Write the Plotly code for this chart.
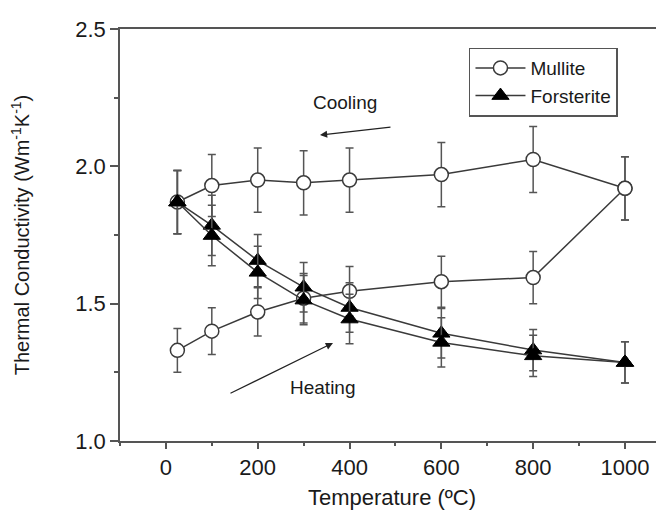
import plotly.graph_objects as go

# ---- data ----
temp_heat = [25, 100, 200, 300, 400, 600, 800, 1000]
mullite_heat = [1.33, 1.40, 1.47, 1.52, 1.545, 1.58, 1.595, 1.92]
mullite_heat_err = [0.08, 0.085, 0.088, 0.09, 0.09, 0.093, 0.095, 0.115]

temp_cool = [1000, 800, 600, 400, 300, 200, 100, 25]
mullite_cool = [1.92, 2.025, 1.97, 1.95, 1.94, 1.95, 1.93, 1.87]
mullite_cool_err = [0.115, 0.12, 0.117, 0.117, 0.117, 0.117, 0.113, 0.115]

temp_f = [25, 100, 200, 300, 400, 600, 800, 1000]
forst_a = [1.87, 1.785, 1.657, 1.56, 1.486, 1.392, 1.331, 1.286]
forst_b = [1.87, 1.748, 1.614, 1.513, 1.444, 1.359, 1.31, 1.286]
forst_err = [0.115, 0.11, 0.095, 0.09, 0.09, 0.09, 0.075, 0.075]

x_ticks = [0, 200, 400, 600, 800, 1000]
y_ticks = [1.0, 1.5, 2.0, 2.5]

FONT = "Liberation Sans, Arial, sans-serif"
TXT = "#1a1a1a"
LINE = "#3a3a3a"
ERR = "#555555"

fig = go.Figure()

def err(vals):
    return dict(type="data", array=vals, visible=True, color=ERR, thickness=1.5, width=4)

circle = dict(symbol="circle", size=14, color="white", line=dict(color=LINE, width=1.5))
tri = dict(symbol="triangle-up", size=15, color="black", line=dict(color="black", width=1))

fig.add_trace(go.Scatter(x=temp_heat, y=mullite_heat, error_y=err(mullite_heat_err),
                         mode="lines+markers", name="Mullite", legendgroup="m",
                         line=dict(color=LINE, width=1.5), marker=circle))
fig.add_trace(go.Scatter(x=temp_cool, y=mullite_cool, error_y=err(mullite_cool_err),
                         mode="lines+markers", name="Mullite", legendgroup="m", showlegend=False,
                         line=dict(color=LINE, width=1.5), marker=circle))
fig.add_trace(go.Scatter(x=temp_f, y=forst_a, error_y=err(forst_err),
                         mode="lines+markers", name="Forsterite", legendgroup="f",
                         line=dict(color=LINE, width=1.5), marker=tri))
fig.add_trace(go.Scatter(x=temp_f, y=forst_b, error_y=err(forst_err),
                         mode="lines+markers", name="Forsterite", legendgroup="f", showlegend=False,
                         line=dict(color=LINE, width=1.5), marker=tri))

axis_common = dict(showline=True, linecolor="#555555", linewidth=1.5, showgrid=False,
                   zeroline=False, ticks="outside", tickcolor="#555555", tickwidth=1.5,
                   automargin=False,
                   tickfont=dict(family=FONT, size=22, color=TXT))

fig.update_xaxes(range=[-100, 1085], tickvals=x_ticks, ticklen=6, mirror=True,
                 minor=dict(dtick=100, tick0=0, ticks="outside", ticklen=3, tickcolor="#555555"),
                 title=dict(text="Temperature (ºC)", font=dict(family=FONT, size=22, color=TXT),
                            standoff=15),
                 **axis_common)
fig.update_yaxes(range=[1.0, 2.5], tickvals=y_ticks, tickformat=".1f", ticklen=8,
                 minor=dict(dtick=0.25, tick0=1.0, ticks="outside", ticklen=4, tickcolor="#555555"),
                 title=dict(text="Thermal Conductivity (Wm<sup>-1</sup>K<sup>-1</sup>)",
                            font=dict(family=FONT, size=20, color=TXT), standoff=40),
                 **axis_common)

fig.add_annotation(xref="paper", yref="paper", x=0.4136, y=0.853, text="Cooling",
                   showarrow=False, font=dict(family=FONT, size=19, color=TXT))
fig.add_annotation(xref="paper", yref="paper", x=0.3732, y=0.100, text="Heating",
                   showarrow=False, font=dict(family=FONT, size=19, color=TXT))
fig.add_annotation(xref="paper", yref="paper", x=0.3676, y=0.7427, text="",
                   showarrow=True, ax=72, ay=-8, arrowhead=2, arrowsize=1.2, arrowwidth=1.2,
                   arrowcolor="#222222", standoff=0)
fig.add_annotation(xref="paper", yref="paper", x=0.3915, y=0.2379, text="",
                   showarrow=True, ax=-104, ay=51, arrowhead=2, arrowsize=1.2, arrowwidth=1.2,
                   arrowcolor="#222222", standoff=0)

# page has an 8px body margin, so the figure is 8px smaller and its margins shifted
fig.update_layout(
    width=656, height=502,
    margin=dict(l=112, r=0, t=21, b=69),
    plot_bgcolor="white", paper_bgcolor="white",
    font=dict(family=FONT, color=TXT),
    legend=dict(x=0.6415, y=0.955, xanchor="left", yanchor="top",
                bgcolor="white", bordercolor="#555555", borderwidth=1.5,
                font=dict(family=FONT, size=19, color=TXT),
                tracegroupgap=0, itemwidth=50),
)

fig.write_html("out.html")
